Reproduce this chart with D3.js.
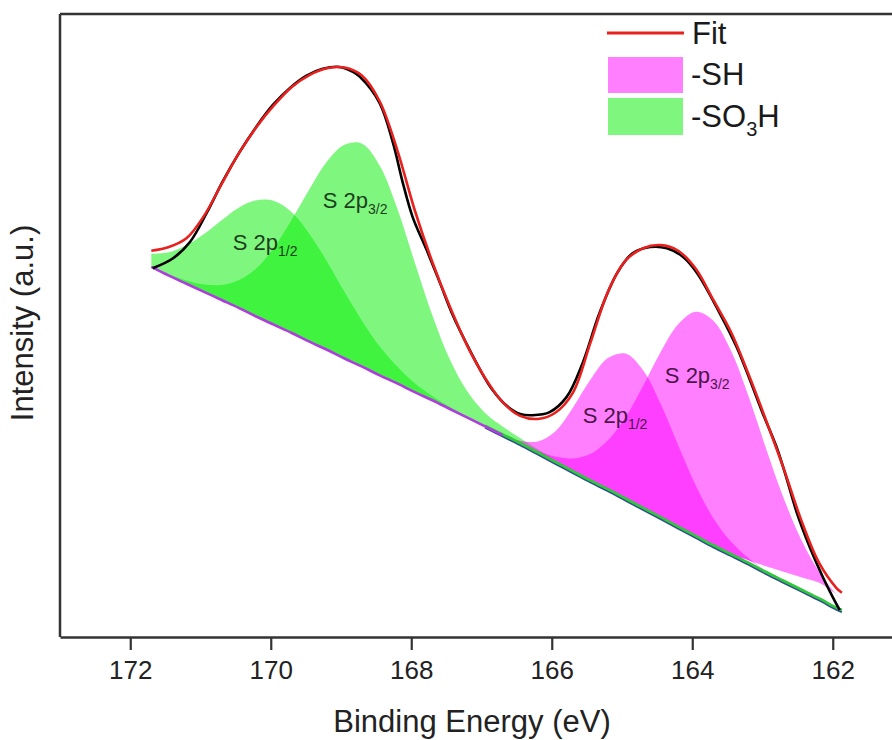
<!DOCTYPE html>
<html>
<head>
<meta charset="utf-8">
<script src="https://cdn.jsdelivr.net/npm/d3@7"></script>
<style>
  html, body { margin: 0; padding: 0; background: #ffffff; }
  svg { display: block; font-family: "Liberation Sans", Arial, Helvetica, sans-serif; }
</style>
</head>
<body>
<svg id="chart" width="892" height="740"></svg>
<script>
// ---- S 2p spectrum: common energy grid (eV) for background, envelope and components ----
const bindingEnergy = [171.7,171.45,171.2,170.95,170.7,170.45,170.2,169.95,169.7,169.45,169.2,168.95,168.7,168.45,168.2,167.95,167.7,167.45,167.2,166.95,166.7,166.45,166.2,165.95,165.7,165.45,165.2,164.95,164.7,164.45,164.2,163.95,163.7,163.45,163.2,162.95,162.7,162.45,162.2,161.95,161.87];

// background (a.u.)
const background = [59.4,58.0,56.7,55.4,54.1,52.8,51.4,50.1,48.8,47.4,46.1,44.7,43.4,42.0,40.7,39.3,38.0,36.6,35.2,33.8,32.4,31.0,29.5,28.0,26.5,25.0,23.6,22.1,20.6,19.1,17.6,16.1,14.6,13.2,11.8,10.3,8.9,7.5,6.1,4.6,4.2];

// fitted envelope (a.u.)
const fitEnvelope = [62.0,62.6,64.0,67.6,72.7,77.7,81.9,85.4,88.3,90.2,91.3,91.4,90.1,86.0,78.2,68.5,60.2,53.0,46.7,41.6,37.7,35.5,35.0,36.0,39.2,47.2,55.4,60.4,62.4,62.9,62.0,59.1,54.1,49.0,42.2,34.8,27.1,18.8,12.0,7.9,7.1];

// component heights above background (a.u.)
const so3h2p12 = [2.12,3.77,6.18,9.28,12.79,16.15,18.71,19.87,19.36,17.30,14.19,10.66,7.34,4.65,2.70,1.43,0.70,0.32,0.13,0.05,0,0,0,0,0,0,0,0,0,0,0,0,0,0,0,0,0,0,0,0,0];
const so3h2p32 = [0.08,0.22,0.53,1.18,2.40,4.51,7.82,12.44,18.20,24.47,30.22,34.30,35.79,33.69,28.11,20.80,13.64,7.93,4.19,2.17,1.40,0.93,0.62,0.39,0.24,0.16,0,0,0,0,0,0,0,0,0,0,0,0,0,0,0];
const sh2p12 = [0,0,0,0,0,0,0,0,0,0,0,0,0,0,0,0,0,0,0,0.03,0.15,0.50,1.90,5.00,10.30,16.28,21.17,23.40,22.21,18.33,13.18,8.23,4.48,2.12,0.88,0.32,0.10,0.03,0,0,0];
const sh2p32 = [0,0,0,0,0,0,0,0,0,0,0,0,0,0,0,0,0,0,0,0,0.05,0.14,0.40,0.96,2.17,4.37,7.98,13.18,19.70,26.65,32.60,36.10,36.18,32.79,26.90,19.97,13.42,8.15,4.49,2.23,1.75];
// lower edge of the -SH fills, above background (a.u.)
const shFillFloor = [0,0,0,0,0,0,0,0,0,0,0,0,0,0,0,0,0,0,0,0,0,0,0,0,0,0,0,0,0,0,0,0,0,0,0.53,1.05,1.58,2.10,2.63,2.23,1.75];

// measured spectrum
const measuredEnergy = [171.68,171.39,171.15,170.91,170.68,170.44,170.20,169.97,169.73,169.49,169.26,169.02,168.83,168.73,168.45,168.26,168.12,167.98,167.78,167.59,167.41,167.21,167.02,166.84,166.64,166.45,166.27,166.03,165.79,165.56,165.32,165.07,164.85,164.60,164.36,164.13,163.93,163.61,163.37,163.18,163.00,162.80,162.65,162.51,162.33,162.14,162.00,161.90];
const measuredIntensity = [59.2,60.8,63.4,68.1,73.2,77.9,82.0,85.4,88.1,90.1,91.2,91.5,90.7,89.9,85.7,79.3,72.9,67.4,62.1,56.8,51.7,47.0,42.9,39.6,37.1,35.8,35.6,36.1,38.5,44.0,52.0,58.4,61.6,62.6,62.4,61.0,58.4,52.0,46.6,41.3,36.0,30.5,25.2,19.9,14.5,9.6,6.4,4.3];

// axis ticks
const majorTicks = [172,170,168,166,164,162];
const minorTicks = [173,171,169,167,165,163,161];

// ---- drawing ----
const W = 892, H = 740;
const plot = { left: 60, top: 14, right: 903, bottom: 637 };
const svg = d3.select("#chart");

const x = d3.scaleLinear().domain([173, 161]).range([plot.left, plot.right]);
const y = d3.scaleLinear().domain([0, 100]).range([plot.bottom, plot.top]);
const smooth = d3.curveCatmullRom.alpha(0.5);

svg.append("defs").append("clipPath").attr("id", "plotClip")
  .append("rect").attr("x", plot.left).attr("y", plot.top)
  .attr("width", W - plot.left).attr("height", plot.bottom - plot.top);

const g = svg.append("g").attr("clip-path", "url(#plotClip)");

const idx = d3.range(bindingEnergy.length);

function componentArea(heights, floor) {
  return d3.area()
    .curve(smooth)
    .x(i => x(bindingEnergy[i]))
    .y0(i => y(background[i] + (floor ? Math.min(floor[i], heights[i]) : 0)))
    .y1(i => y(background[i] + heights[i]));
}

const GREEN = "rgb(0,240,0)";
const MAGENTA = "rgb(255,0,255)";

// -SO3H doublet
g.append("path").datum(idx).attr("d", componentArea(so3h2p12))
  .attr("fill", GREEN).attr("fill-opacity", 0.5);
g.append("path").datum(idx).attr("d", componentArea(so3h2p32))
  .attr("fill", GREEN).attr("fill-opacity", 0.5);
// -SH doublet
g.append("path").datum(idx).attr("d", componentArea(sh2p12, shFillFloor))
  .attr("fill", MAGENTA).attr("fill-opacity", 0.5);
g.append("path").datum(idx).attr("d", componentArea(sh2p32, shFillFloor))
  .attr("fill", MAGENTA).attr("fill-opacity", 0.5);

// background lines
const bgLine = d3.line().curve(smooth)
  .x(i => x(bindingEnergy[i])).y(i => y(background[i]));
const rightIdx = idx.filter(i => bindingEnergy[i] <= 167.0);
const leftIdx = idx.filter(i => bindingEnergy[i] >= 166.7);
g.append("path").datum(rightIdx).attr("d", bgLine)
  .attr("fill", "none").attr("stroke", "#2f4f8f").attr("stroke-width", 2)
  .attr("transform", "translate(0,1.2)");
g.append("path").datum(rightIdx).attr("d", bgLine)
  .attr("fill", "none").attr("stroke", "#2ec83a").attr("stroke-width", 2.6)
  .attr("transform", "translate(0,-0.8)");
g.append("path").datum(leftIdx).attr("d", bgLine)
  .attr("fill", "none").attr("stroke", "#b03ce0").attr("stroke-width", 2.6);

// measured spectrum
const dataLine = d3.line().curve(smooth)
  .x((d, i) => x(measuredEnergy[i])).y(d => y(d));
g.append("path").datum(measuredIntensity).attr("d", dataLine)
  .attr("fill", "none").attr("stroke", "#000").attr("stroke-width", 2.6);

// envelope
const fitLine = d3.line().curve(smooth)
  .x((d, i) => x(bindingEnergy[i])).y(d => y(d));
g.append("path").datum(fitEnvelope).attr("d", fitLine)
  .attr("fill", "none").attr("stroke", "#e8201e").attr("stroke-width", 2.6);

// peak labels
const peakLabels = [
  { e: 170.54, v: 62.1, sub: "1/2", color: "#1d3f1d" },
  { e: 169.26, v: 68.9, sub: "3/2", color: "#1d3f1d" },
  { e: 165.56, v: 34.3, sub: "1/2", color: "#4a1648" },
  { e: 164.39, v: 40.8, sub: "3/2", color: "#4a1648" }
];
peakLabels.forEach(p => {
  const t = svg.append("text").attr("x", x(p.e)).attr("y", y(p.v))
    .attr("fill", p.color).attr("font-size", 22);
  t.append("tspan").text("S 2p");
  t.append("tspan").attr("dy", 6).attr("font-size", 14).text(p.sub);
});

// frame lines
svg.append("line").attr("x1", plot.left).attr("x2", W).attr("y1", plot.top).attr("y2", plot.top)
  .attr("stroke", "#333").attr("stroke-width", 2.5);
svg.append("line").attr("x1", plot.left).attr("x2", plot.left).attr("y1", plot.top).attr("y2", plot.bottom)
  .attr("stroke", "#333").attr("stroke-width", 2.5);

// bottom axis
const axisG = svg.append("g").attr("transform", `translate(0,${plot.bottom})`);
axisG.call(d3.axisBottom(x).tickValues(minorTicks).tickSize(7).tickSizeOuter(0).tickFormat(""));
axisG.call(d3.axisBottom(x).tickValues(majorTicks).tickSize(13).tickSizeOuter(0).tickPadding(11)
  .tickFormat(d3.format("d")));
axisG.selectAll(".domain").attr("stroke", "#333").attr("stroke-width", 2.5);
axisG.selectAll(".tick line").attr("stroke", "#333").attr("stroke-width", 2.2);
axisG.selectAll(".tick text").attr("fill", "#222").attr("font-size", 26)
  .attr("font-family", "'Liberation Sans', Arial, sans-serif");

// axis titles
svg.append("text").attr("x", 472).attr("y", 732).attr("text-anchor", "middle")
  .attr("font-size", 31).attr("fill", "#222").text("Binding Energy (eV)");
svg.append("text").attr("transform", "translate(33,323) rotate(-90)")
  .attr("text-anchor", "middle").attr("font-size", 31).attr("fill", "#222")
  .text("Intensity (a.u.)");

// legend
const lg = svg.append("g");
lg.append("line").attr("x1", 607).attr("x2", 684).attr("y1", 33).attr("y2", 33)
  .attr("stroke", "#e8201e").attr("stroke-width", 3);
lg.append("text").attr("x", 692).attr("y", 44).attr("font-size", 31).attr("fill", "#1a1a1a").text("Fit");
lg.append("rect").attr("x", 608).attr("y", 57).attr("width", 75).attr("height", 36)
  .attr("fill", MAGENTA).attr("fill-opacity", 0.5);
lg.append("text").attr("x", 691).attr("y", 85).attr("font-size", 31).attr("fill", "#1a1a1a").text("-SH");
lg.append("rect").attr("x", 608).attr("y", 98).attr("width", 75).attr("height", 37)
  .attr("fill", GREEN).attr("fill-opacity", 0.5);
const so3 = lg.append("text").attr("x", 691).attr("y", 127).attr("font-size", 31).attr("fill", "#1a1a1a");
so3.append("tspan").text("-SO");
so3.append("tspan").attr("dy", 9).attr("font-size", 20).text("3");
so3.append("tspan").attr("dy", -9).text("H");
</script>
</body>
</html>
